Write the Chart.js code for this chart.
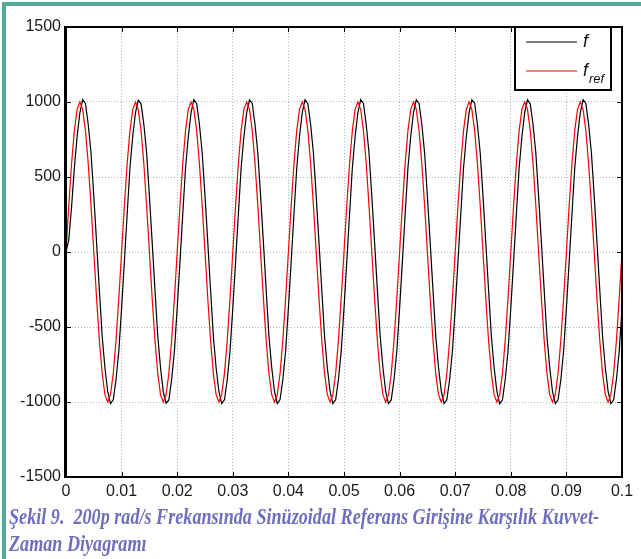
<!DOCTYPE html>
<html>
<head>
<meta charset="utf-8">
<script src="https://cdn.jsdelivr.net/npm/chart.js@4/dist/chart.umd.min.js"></script>
<style>
  html, body { margin: 0; padding: 0; background: #fff; }
  body { width: 641px; height: 559px; position: relative; overflow: hidden; }
  #wrap { position: absolute; left: 0; top: 0; width: 641px; height: 505px; }
  .bar-top { position: absolute; left: 2px; top: 2px; width: 639px; height: 4px; background: #55a999; }
  .bar-left { position: absolute; left: 2px; top: 2px; width: 4px; height: 557px; background: #55a999; }
  #caption { position: absolute; left: 9px; top: 503px; font: italic bold 23px "Liberation Serif", "DejaVu Serif", serif;
             color: #6e6ebd; line-height: 27px; white-space: nowrap; }
  #caption span { display: inline-block; transform-origin: 0 0; }
</style>
</head>
<body>
<div class="bar-top"></div>
<div class="bar-left"></div>
<div id="wrap"><canvas id="chart" width="641" height="505"></canvas></div>
<div id="caption">
  <span id="cap1">Şekil 9.&nbsp; 200p rad/s Frekansında Sinüzoidal Referans Girişine Karşılık Kuvvet-</span><br>
  <span id="cap2">Zaman Diyagramı</span>
</div>
<script>
// sample times (s)
const times = [
  0, 0.0005, 0.001, 0.0015, 0.002, 0.0025, 0.003, 0.0035, 0.004, 0.0045,
  0.005, 0.0055, 0.006, 0.0065, 0.007, 0.0075, 0.008, 0.0085, 0.009, 0.0095,
  0.01, 0.0105, 0.011, 0.0115, 0.012, 0.0125, 0.013, 0.0135, 0.014, 0.0145,
  0.015, 0.0155, 0.016, 0.0165, 0.017, 0.0175, 0.018, 0.0185, 0.019, 0.0195,
  0.02, 0.0205, 0.021, 0.0215, 0.022, 0.0225, 0.023, 0.0235, 0.024, 0.0245,
  0.025, 0.0255, 0.026, 0.0265, 0.027, 0.0275, 0.028, 0.0285, 0.029, 0.0295,
  0.03, 0.0305, 0.031, 0.0315, 0.032, 0.0325, 0.033, 0.0335, 0.034, 0.0345,
  0.035, 0.0355, 0.036, 0.0365, 0.037, 0.0375, 0.038, 0.0385, 0.039, 0.0395,
  0.04, 0.0405, 0.041, 0.0415, 0.042, 0.0425, 0.043, 0.0435, 0.044, 0.0445,
  0.045, 0.0455, 0.046, 0.0465, 0.047, 0.0475, 0.048, 0.0485, 0.049, 0.0495,
  0.05, 0.0505, 0.051, 0.0515, 0.052, 0.0525, 0.053, 0.0535, 0.054, 0.0545,
  0.055, 0.0555, 0.056, 0.0565, 0.057, 0.0575, 0.058, 0.0585, 0.059, 0.0595,
  0.06, 0.0605, 0.061, 0.0615, 0.062, 0.0625, 0.063, 0.0635, 0.064, 0.0645,
  0.065, 0.0655, 0.066, 0.0665, 0.067, 0.0675, 0.068, 0.0685, 0.069, 0.0695,
  0.07, 0.0705, 0.071, 0.0715, 0.072, 0.0725, 0.073, 0.0735, 0.074, 0.0745,
  0.075, 0.0755, 0.076, 0.0765, 0.077, 0.0775, 0.078, 0.0785, 0.079, 0.0795,
  0.08, 0.0805, 0.081, 0.0815, 0.082, 0.0825, 0.083, 0.0835, 0.084, 0.0845,
  0.085, 0.0855, 0.086, 0.0865, 0.087, 0.0875, 0.088, 0.0885, 0.089, 0.0895,
  0.09, 0.0905, 0.091, 0.0915, 0.092, 0.0925, 0.093, 0.0935, 0.094, 0.0945,
  0.095, 0.0955, 0.096, 0.0965, 0.097, 0.0975, 0.098, 0.0985, 0.099, 0.0995,
  0.1
];

// f (measured force), black
const fMeasured = [
  0, 80, 300, 560, 770, 930, 1015, 990, 850, 660, 374, 64, -252, -560, -770, -930, -1010, -985, -850, -660,
  -374, -64, 252, 560, 772, 928, 1013, 988, 852, 662, 374, 64, -252, -558, -770, -932, -1008, -986, -850, -660,
  -374, -64, 254, 560, 770, 930, 1016, 990, 850, 658, 374, 64, -252, -560, -772, -930, -1010, -985, -852, -660,
  -374, -64, 252, 562, 770, 930, 1014, 990, 850, 660, 374, 66, -252, -560, -770, -930, -1010, -984, -850, -660,
  -374, -64, 252, 560, 770, 932, 1015, 989, 850, 660, 374, 64, -250, -560, -770, -930, -1011, -985, -850, -660,
  -374, -64, 252, 560, 770, 930, 1015, 990, 848, 660, 374, 64, -252, -560, -770, -930, -1010, -986, -850, -662,
  -374, -64, 252, 560, 770, 930, 1016, 990, 850, 660, 372, 64, -252, -560, -770, -928, -1010, -985, -850, -660,
  -374, -62, 252, 560, 770, 930, 1015, 990, 850, 660, 374, 64, -252, -560, -770, -930, -1012, -985, -850, -660,
  -374, -64, 252, 560, 770, 930, 1015, 988, 850, 660, 374, 64, -252, -562, -770, -930, -1010, -985, -850, -660,
  -374, -64, 252, 560, 770, 930, 1016, 990, 850, 660, 374, 64, -252, -560, -770, -930, -1010, -985, -850, -660,
  -374
];

// f_ref (reference), red
const fRef = [
  0, 309, 588, 809, 951, 1000, 951, 809, 588, 309, 0, -309, -588, -809, -951, -1000, -951, -809, -588, -309,
  0, 309, 588, 809, 951, 1000, 951, 809, 588, 309, 0, -309, -588, -809, -951, -1000, -951, -809, -588, -309,
  0, 309, 588, 809, 951, 1000, 951, 809, 588, 309, 0, -309, -588, -809, -951, -1000, -951, -809, -588, -309,
  0, 309, 588, 809, 951, 1000, 951, 809, 588, 309, 0, -309, -588, -809, -951, -1000, -951, -809, -588, -309,
  0, 309, 588, 809, 951, 1000, 951, 809, 588, 309, 0, -309, -588, -809, -951, -1000, -951, -809, -588, -309,
  0, 309, 588, 809, 951, 1000, 951, 809, 588, 309, 0, -309, -588, -809, -951, -1000, -951, -809, -588, -309,
  0, 309, 588, 809, 951, 1000, 951, 809, 588, 309, 0, -309, -588, -809, -951, -1000, -951, -809, -588, -309,
  0, 309, 588, 809, 951, 1000, 951, 809, 588, 309, 0, -309, -588, -809, -951, -1000, -951, -809, -588, -309,
  0, 309, 588, 809, 951, 1000, 951, 809, 588, 309, 0, -309, -588, -809, -951, -1000, -951, -809, -588, -309,
  0, 309, 588, 809, 951, 1000, 951, 809, 588, 309, 0, -309, -588, -809, -951, -1000, -951, -809, -588, -309,
  0
];

const xTicks = [0, 0.01, 0.02, 0.03, 0.04, 0.05, 0.06, 0.07, 0.08, 0.09, 0.1];
const yTicks = [-1500, -1000, -500, 0, 500, 1000, 1500];

const tickFont = { family: '"Liberation Sans", Arial, sans-serif', size: 16 };

// Matlab style box, inner ticks and legend
const matlabBox = {
  id: 'matlabBox',
  afterDraw(chart) {
    const { ctx, chartArea: a, scales: { x, y } } = chart;
    ctx.save();
    ctx.strokeStyle = '#000';
    ctx.lineWidth = 1;
    ctx.beginPath();
    xTicks.forEach(v => {
      const px = Math.round(x.getPixelForValue(v)) + 0.5;
      ctx.moveTo(px, a.bottom); ctx.lineTo(px, a.bottom - 5);
      ctx.moveTo(px, a.top); ctx.lineTo(px, a.top + 5);
    });
    yTicks.forEach(v => {
      const py = Math.round(y.getPixelForValue(v)) + 0.5;
      ctx.moveTo(a.left, py); ctx.lineTo(a.left + 5, py);
      ctx.moveTo(a.right, py); ctx.lineTo(a.right - 5, py);
    });
    ctx.stroke();

    ctx.lineWidth = 2;
    ctx.strokeRect(a.left, a.top, a.right - a.left, a.bottom - a.top);
    ctx.lineWidth = 3;
    ctx.beginPath();
    ctx.moveTo(a.left - 0.5, a.top - 1); ctx.lineTo(a.left - 0.5, a.bottom + 1);
    ctx.stroke();

    // legend
    const lx = a.right - 107, ly = a.top, lw = 96, lh = 63;
    ctx.fillStyle = '#fff';
    ctx.fillRect(lx, ly, lw, lh);
    ctx.lineWidth = 2;
    ctx.strokeStyle = '#000';
    ctx.strokeRect(lx, ly, lw, lh);
    const items = chart.data.datasets.slice().sort((p, q) => q.order - p.order);
    items.forEach((ds, i) => {
      const yy = ly + 15 + i * 29;
      ctx.strokeStyle = ds.borderColor;
      ctx.lineWidth = 1.2;
      ctx.beginPath();
      ctx.moveTo(lx + 11, yy); ctx.lineTo(lx + 62, yy);
      ctx.stroke();
      ctx.fillStyle = '#111';
      ctx.textBaseline = 'middle';
      ctx.font = 'italic 18px "Liberation Sans", Arial, sans-serif';
      ctx.fillText('f', lx + 68, yy);
      if (ds.sub) {
        ctx.font = 'italic 13px "Liberation Sans", Arial, sans-serif';
        ctx.fillText(ds.sub, lx + 74, yy + 8);
      }
    });
    ctx.restore();
  }
};

new Chart(document.getElementById('chart'), {
  type: 'line',
  data: {
    datasets: [
      {
        label: 'f_ref',
        sub: 'ref',
        data: times.map((t, i) => ({ x: t, y: fRef[i] })),
        borderColor: '#ff0000',
        borderWidth: 1.2,
        pointRadius: 0,
        tension: 0,
        order: 0
      },
      {
        label: 'f',
        sub: '',
        data: times.map((t, i) => ({ x: t, y: fMeasured[i] })),
        borderColor: '#000000',
        borderWidth: 1.2,
        pointRadius: 0,
        tension: 0,
        order: 1
      }
    ]
  },
  options: {
    responsive: false,
    animation: false,
    layout: { padding: { left: 0, top: 27, right: 19, bottom: 0 } },
    plugins: { legend: { display: false }, tooltip: { enabled: false } },
    scales: {
      x: {
        type: 'linear',
        min: 0,
        max: 0.1,
        afterFit: s => { s.height = 28; },
        afterBuildTicks: s => { s.ticks = xTicks.map(v => ({ value: v })); },
        ticks: {
          font: tickFont,
          color: '#1a1a1a',
          padding: 5,
          maxRotation: 0,
          autoSkip: false,
          callback: v => String(+v.toFixed(2))
        },
        grid: { color: '#b5b5b5', lineWidth: 1, drawTicks: false },
        border: { display: false, dash: [1, 2] }
      },
      y: {
        min: -1500,
        max: 1500,
        afterFit: s => { s.width = 66; },
        afterBuildTicks: s => { s.ticks = yTicks.map(v => ({ value: v })); },
        ticks: {
          font: tickFont,
          color: '#1a1a1a',
          padding: 5,
          autoSkip: false,
          callback: v => String(v)
        },
        grid: { color: '#b5b5b5', lineWidth: 1, drawTicks: false },
        border: { display: false, dash: [1, 2] }
      }
    }
  },
  plugins: [matlabBox]
});

// condense the caption like the printed figure
const c1 = document.getElementById('cap1');
const c2 = document.getElementById('cap2');
const k = 590 / c1.getBoundingClientRect().width;
c1.style.transform = 'scaleX(' + k + ')';
c2.style.transform = 'scaleX(' + k + ')';
</script>
</body>
</html>
